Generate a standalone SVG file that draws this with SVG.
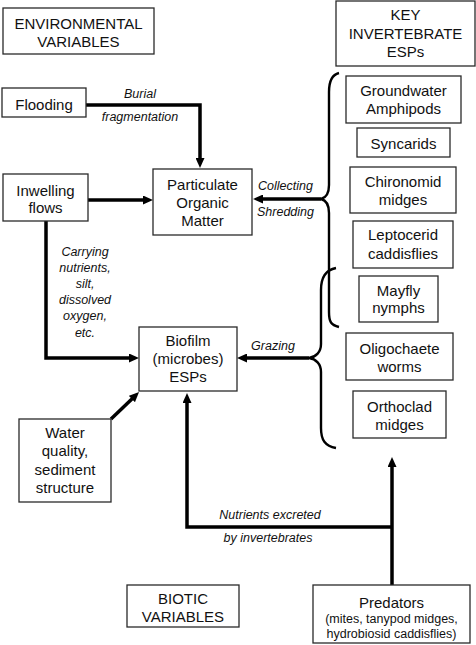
<svg xmlns="http://www.w3.org/2000/svg" width="476" height="645" viewBox="0 0 476 645">
<style>
.box{fill:#fff;stroke:#2a2a2a;stroke-width:1.3}
.t{font-family:"Liberation Sans",Arial,sans-serif;font-size:15px;fill:#111;text-anchor:middle}
.s{font-size:12.5px}
.i{font-family:"Liberation Sans",Arial,sans-serif;font-size:12.5px;font-style:italic;fill:#111;text-anchor:middle}
.c{fill:none;stroke:#000;stroke-width:3.5}
.b{fill:none;stroke:#000;stroke-width:2.4}
</style>
<defs>
<marker id="ah" viewBox="0 0 10 9" markerWidth="10" markerHeight="9" refX="3" refY="4.5" orient="auto" markerUnits="userSpaceOnUse">
<path d="M0,0 L10,4.5 L0,9 z" fill="#000"/>
</marker>
</defs>
<g id="connectors">
<path class="c" d="M86,105 H200 V161" marker-end="url(#ah)"/>
<path class="c" d="M88,200 H146" marker-end="url(#ah)"/>
<path class="c" d="M46,221 V358 H132" marker-end="url(#ah)"/>
<path class="c" d="M321,199 H260" marker-end="url(#ah)"/>
<path class="c" d="M309,358 H244" marker-end="url(#ah)"/>
<path class="c" d="M111,419 L134,396.9" marker-end="url(#ah)"/>
<path class="c" d="M392,585 V464" marker-end="url(#ah)"/>
<path class="c" d="M392,527 H187 V400" marker-end="url(#ah)"/>
<path class="b" d="M339,73 C331,75 329,82 329,92 V185 C329,194 325,198 321,199 C325,200 329,204 329,213 V312 C329,322 331,325 339,327"/>
<path class="b" d="M336,268 C325,270 321,278 321,290 V344 C321,352 316,357 309,358 C316,359 321,364 321,372 V428 C321,440 325,446 336,448"/>
<text class="i" x="140" y="98">Burial</text>
<text class="i" x="140" y="121">fragmentation</text>
<text class="i" x="285.5" y="190">Collecting</text>
<text class="i" x="285.5" y="216">Shredding</text>
<text class="i" x="273" y="350">Grazing</text>
<text class="i" x="85" y="256">Carrying</text>
<text class="i" x="85" y="272">nutrients,</text>
<text class="i" x="85" y="288">silt,</text>
<text class="i" x="85" y="304">dissolved</text>
<text class="i" x="85" y="320">oxygen,</text>
<text class="i" x="85" y="337">etc.</text>
<text class="i" x="270" y="519">Nutrients excreted</text>
<text class="i" x="268" y="542">by invertebrates</text>
</g>
<g id="env-vars"><rect class="box" x="3" y="8" width="151" height="46"/><text class="t" x="78.5" y="29">ENVIRONMENTAL</text><text class="t" x="78.5" y="47">VARIABLES</text></g>
<g id="flooding"><rect class="box" x="2" y="88" width="84" height="29"/><text class="t" x="44" y="110">Flooding</text></g>
<g id="inwelling"><rect class="box" x="3" y="174" width="85" height="47"/><text class="t" x="45.5" y="196">Inwelling</text><text class="t" x="45.5" y="213">flows</text></g>
<g id="pom"><rect class="box" x="153" y="169" width="99" height="66"/><text class="t" x="202.5" y="190">Particulate</text><text class="t" x="202.5" y="208">Organic</text><text class="t" x="202.5" y="226">Matter</text></g>
<g id="key-esps"><rect class="box" x="336" y="1" width="139" height="65"/><text class="t" x="405.5" y="20">KEY</text><text class="t" x="405.5" y="38.5">INVERTEBRATE</text><text class="t" x="405.5" y="57">ESPs</text></g>
<g id="groundwater"><rect class="box" x="346" y="76" width="115" height="47"/><text class="t" x="403.5" y="96">Groundwater</text><text class="t" x="403.5" y="114">Amphipods</text></g>
<g id="syncarids"><rect class="box" x="357" y="128" width="93" height="29"/><text class="t" x="403.5" y="149">Syncarids</text></g>
<g id="chironomid"><rect class="box" x="350" y="167" width="106" height="46"/><text class="t" x="403" y="187">Chironomid</text><text class="t" x="403" y="205">midges</text></g>
<g id="leptocerid"><rect class="box" x="353" y="221" width="100" height="47"/><text class="t" x="403" y="240">Leptocerid</text><text class="t" x="403" y="259">caddisflies</text></g>
<g id="mayfly"><rect class="box" x="359" y="276" width="79" height="46"/><text class="t" x="398.5" y="296">Mayfly</text><text class="t" x="398.5" y="313">nymphs</text></g>
<g id="oligochaete"><rect class="box" x="346" y="333" width="107" height="47"/><text class="t" x="399.5" y="354">Oligochaete</text><text class="t" x="399.5" y="372">worms</text></g>
<g id="orthoclad"><rect class="box" x="353" y="391" width="93" height="47"/><text class="t" x="399.5" y="412">Orthoclad</text><text class="t" x="399.5" y="430">midges</text></g>
<g id="biofilm"><rect class="box" x="139" y="327" width="98" height="64"/><text class="t" x="188" y="345.5">Biofilm</text><text class="t" x="188" y="363.5">(microbes)</text><text class="t" x="188" y="381.5">ESPs</text></g>
<g id="water-quality"><rect class="box" x="19" y="419" width="92" height="83"/><text class="t" x="65" y="438">Water</text><text class="t" x="65" y="456">quality,</text><text class="t" x="65" y="475">sediment</text><text class="t" x="65" y="493">structure</text></g>
<g id="biotic-vars"><rect class="box" x="127" y="585" width="112" height="42"/><text class="t" x="183" y="604">BIOTIC</text><text class="t" x="183" y="622">VARIABLES</text></g>
<g id="predators"><rect class="box" x="313" y="585" width="157" height="58"/><text class="t" x="391.5" y="608">Predators</text><text class="t s" x="391.5" y="623">(mites, tanypod midges,</text><text class="t s" x="391.5" y="638">hydrobiosid caddisflies)</text></g>
</svg>
